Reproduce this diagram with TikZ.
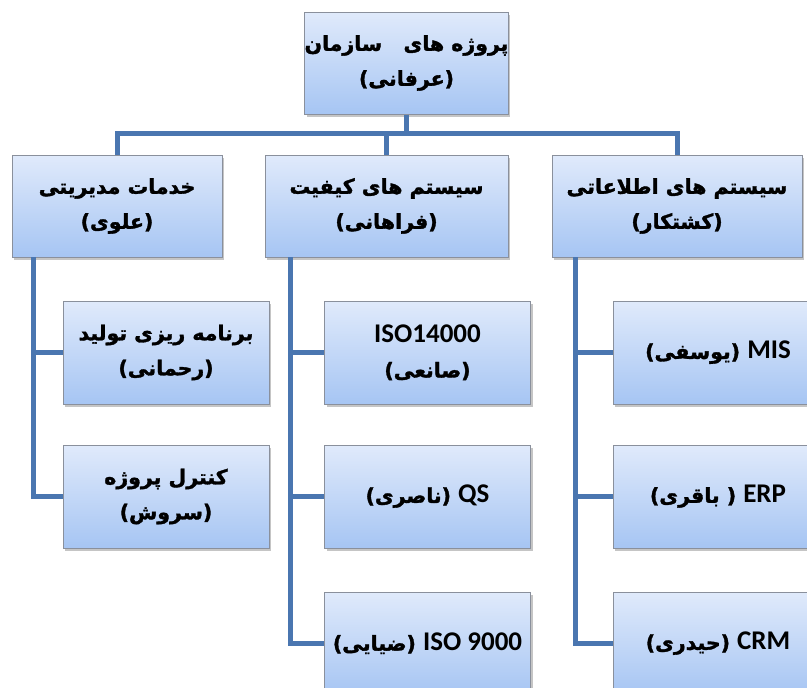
\documentclass[tikz,border=0pt]{standalone}
\usepackage{fontspec}
\setmainfont{Carlito}
\newfontfamily\arabicfont[Script=Arabic,BoldFeatures={FakeBold=1.6}]{DejaVu Sans}
\newfontfamily\latinfont{Carlito}
\TeXXeTstate=1
\usepackage{tikz}
\usetikzlibrary{shadows}
\usetikzlibrary{positioning}

\definecolor{linkblue}{RGB}{74,118,176}
\definecolor{boxtop}{RGB}{224,234,251}
\definecolor{boxbottom}{RGB}{166,197,243}
\definecolor{boxline}{RGB}{138,144,156}

\newcommand{\faline}[1]{\beginR{\arabicfont #1}\endR}
\newcommand{\enword}[1]{\beginL{\latinfont\fontsize{27}{35}\selectfont #1}\endL{}}

\begin{document}
\begin{tikzpicture}
    [
    x=1pt,y=-1pt,
    box/.style={rectangle,draw=boxline,line width=1pt,top color=boxtop,bottom color=boxbottom,
      inner sep=0pt,align=center,minimum height=102pt,
      font=\bfseries\fontsize{20.5}{35}\selectfont,
      drop shadow={shadow xshift=2pt,shadow yshift=-3pt,fill=black!45,opacity=.5}},
    child/.style={box,minimum width=206pt,minimum height=103pt},
    link/.style={draw=linkblue,line width=5pt,line join=miter},
    ]
    \useasboundingbox (0,0) rectangle (807,688);

    % connectors first, boxes on top
    \coordinate (bus) at (0,133);
    \coordinate (lrail) at (33,257);
    \coordinate (mrail) at (290,257);
    \coordinate (rrail) at (575,257);

    \node (top) at (406.5,63) [box,minimum width=203pt] {\faline{پروژه های\ \ \ سازمان}\\\faline{(عرفانی)}};

    \node (mgmt) at (117,206) [box,minimum width=210pt] {\faline{خدمات مدیریتی}\\\faline{(علوی)}};
    \node (qual) at (386.5,206) [box,minimum width=243pt] {\faline{سیستم های کیفیت}\\\faline{(فراهانی)}};
    \node (info) at (677,206) [box,minimum width=250pt] {\faline{سیستم های اطلاعاتی}\\\faline{(کشتکار)}};

    \node (prod) at (166,352.5) [child] {\faline{برنامه ریزی تولید}\\\faline{(رحمانی)}};
    \node (ctrl) at (166,496.5) [child] {\faline{کنترل پروژه}\\\faline{(سروش)}};

    \node (iso14) at (427.5,352.5) [child] {\faline{\enword{ISO14000}}\\\faline{(صانعی)}};
    \node (qs) at (427.5,496.5) [child] {\faline{\enword{QS} (ناصری)}};
    \node (iso9) at (427.5,643.5) [child] {\faline{\enword{ISO 9000} (ضیایی)}};

    \node (mis) at (718,352.5) [child,minimum width=210pt] {\faline{\enword{MIS} (یوسفی)}};
    \node (erp) at (718,496.5) [child,minimum width=210pt] {\faline{\enword{ERP} ( باقری)}};
    \node (crm) at (718,643.5) [child,minimum width=210pt] {\faline{\enword{CRM} (حیدری)}};

    \draw [link] (top.south) -- (top.south |- bus);
    \draw [link] (mgmt.north) -- (mgmt.north |- bus) -- (info.north |- bus) -- (info.north);
    \draw [link] (qual.north) -- (qual.north |- bus);

    \draw [link] (lrail) |- (prod.west);
    \draw [link] (lrail) |- (ctrl.west);
    \draw [link] (mrail) |- (iso14.west);
    \draw [link] (mrail) |- (qs.west);
    \draw [link] (mrail) |- (iso9.west);
    \draw [link] (rrail) |- (mis.west);
    \draw [link] (rrail) |- (erp.west);
    \draw [link] (rrail) |- (crm.west);
  \end{tikzpicture}
\end{document}
